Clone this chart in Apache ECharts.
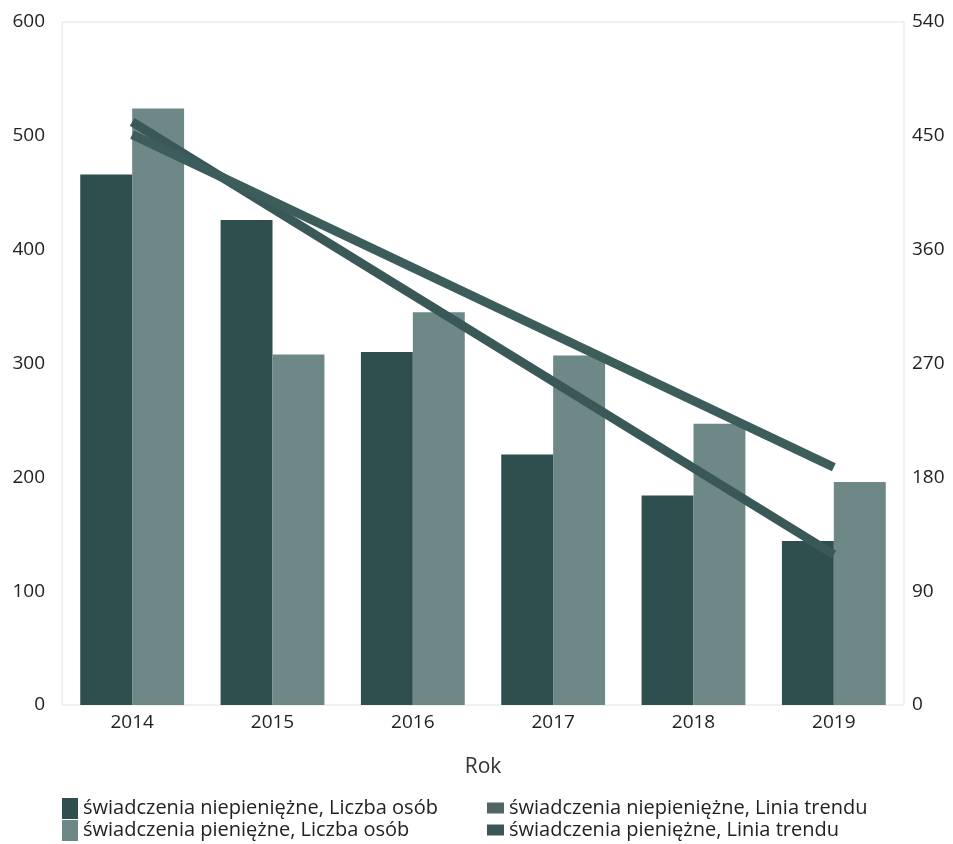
<!DOCTYPE html>
<html>
<head>
<meta charset="utf-8">
<script src="https://cdn.jsdelivr.net/npm/echarts@6/dist/echarts.min.js"></script>
<style>html,body{margin:0;padding:0;background:#fff}#c{width:953px;height:844px}</style>
</head>
<body>
<div id="c"></div>
<script>
var categories = ['2014', '2015', '2016', '2017', '2018', '2019'];
var niepieniezne = [466, 426, 310, 220, 184, 144];
var pieniezne = [524, 308, 345, 307, 247, 196];
var trendNiepieniezne = [461, null, null, null, null, 119];
var trendPieniezne = [451, null, null, null, null, 188];
var leftTicks = {min: 0, max: 600, interval: 100};
var rightTicks = {min: 0, max: 540, interval: 90};
var names = ['świadczenia niepieniężne, Liczba osób', 'świadczenia pieniężne, Liczba osób',
  'świadczenia niepieniężne, Linia trendu', 'świadczenia pieniężne, Linia trendu'];

var font = "'Open Sans', 'Noto Sans', sans-serif";
var chart = echarts.init(document.getElementById('c'));
chart.setOption({
  animation: false,
  textStyle: {fontFamily: font},
  grid: {left: 62, right: 49, top: 22, bottom: 139, show: true, borderColor: '#e2e2e2', borderWidth: 1},
  legend: [{
    orient: 'vertical', left: 62, top: 798, padding: 0, height: 46, itemWidth: 16, itemHeight: 21, itemGap: 1,
    textStyle: {fontSize: 20, color: '#222', fontFamily: font},
    data: [{name: names[0], icon: 'rect'}, {name: names[1], icon: 'rect'}]
  }, {
    orient: 'vertical', left: 487, top: 798, padding: 0, height: 46, itemWidth: 17, itemHeight: 11, itemGap: 2,
    textStyle: {fontSize: 20, color: '#222', fontFamily: font, lineHeight: 20},
    data: [{name: names[2], icon: 'rect'}, {name: names[3], icon: 'rect'}]
  }],
  xAxis: {
    type: 'category', data: categories,
    name: 'Rok', nameLocation: 'middle', nameGap: 52,
    nameTextStyle: {fontSize: 21, color: '#333'},
    axisLine: {show: false}, axisTick: {show: false},
    axisLabel: {fontSize: 19, color: '#222', margin: 8}
  },
  yAxis: [{
    type: 'value', min: leftTicks.min, max: leftTicks.max, interval: leftTicks.interval,
    axisLine: {show: false}, axisTick: {show: false}, splitLine: {show: false},
    axisLabel: {fontSize: 19, color: '#222', margin: 17}
  }, {
    type: 'value', min: rightTicks.min, max: rightTicks.max, interval: rightTicks.interval,
    position: 'right',
    axisLine: {show: false}, axisTick: {show: false}, splitLine: {show: false},
    axisLabel: {fontSize: 19, color: '#222', margin: 8}
  }],
  series: [{
    name: names[0], type: 'bar', data: niepieniezne, barGap: '0%', barCategoryGap: '26%',
    itemStyle: {color: '#2f4f4f'}
  }, {
    name: names[1], type: 'bar', data: pieniezne,
    itemStyle: {color: '#6e8787'}
  }, {
    name: names[2], type: 'line', yAxisIndex: 1, data: trendNiepieniezne, connectNulls: true,
    symbol: 'none', lineStyle: {width: 9, color: '#3a5858'}, itemStyle: {color: '#4f6566'}, z: 3
  }, {
    name: names[3], type: 'line', yAxisIndex: 1, data: trendPieniezne, connectNulls: true,
    symbol: 'none', lineStyle: {width: 9, color: '#3d5c5c'}, itemStyle: {color: '#3c5556'}, z: 3
  }]
});
</script>
</body>
</html>
